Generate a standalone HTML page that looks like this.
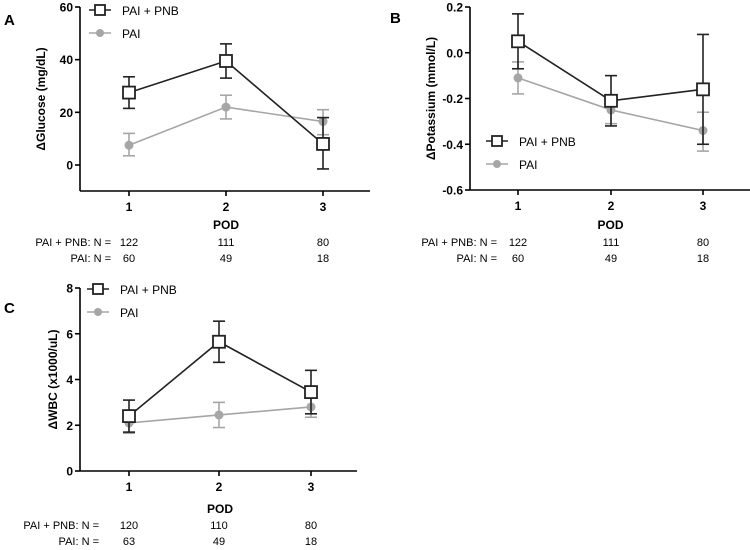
<!DOCTYPE html>
<html><head><meta charset="utf-8">
<style>
html,body{margin:0;padding:0;background:#fff;}
svg{display:block;font-family:"Liberation Sans",Arial,sans-serif;}
</style></head>
<body>
<svg id="fig" width="750" height="550" viewBox="0 0 750 550" xmlns="http://www.w3.org/2000/svg"></svg>
<script>
const categories = ["1","2","3"];
// Panel A glucose
const glucosePnb = [27.5, 39.5, 8];
const glucosePnbLo = [21.5, 33, -1.5];
const glucosePnbHi = [33.5, 46, 18];
const glucosePai = [7.5, 22, 16.5];
const glucosePaiLo = [3.5, 17.5, 11.5];
const glucosePaiHi = [12, 26.5, 21];
const glucoseTicks = [0, 20, 40, 60];
const glucoseNPnb = ["122","111","80"];
const glucoseNPai = ["60","49","18"];
// Panel B potassium
const potPnb = [0.05, -0.21, -0.16];
const potPnbLo = [-0.07, -0.32, -0.40];
const potPnbHi = [0.17, -0.10, 0.08];
const potPai = [-0.11, -0.25, -0.34];
const potPaiLo = [-0.18, -0.31, -0.43];
const potPaiHi = [-0.04, -0.19, -0.26];
const potTicks = [-0.6, -0.4, -0.2, 0.0, 0.2];
const potTickLabels = ["-0.6","-0.4","-0.2","0.0","0.2"];
const potNPnb = ["122","111","80"];
const potNPai = ["60","49","18"];
// Panel C WBC
const wbcPnb = [2.4, 5.65, 3.45];
const wbcPnbLo = [1.7, 4.75, 2.5];
const wbcPnbHi = [3.1, 6.55, 4.4];
const wbcPai = [2.1, 2.45, 2.8];
const wbcPaiLo = [1.65, 1.9, 2.35];
const wbcPaiHi = [2.5, 3.0, 3.3];
const wbcTicks = [0, 2, 4, 6, 8];
const wbcNPnb = ["120","110","80"];
const wbcNPai = ["63","49","18"];

const svg = document.getElementById('fig');
const NS = "http://www.w3.org/2000/svg";
function mk(tag, attrs, parent){
  const e = document.createElementNS(NS, tag);
  for (const k in attrs) e.setAttribute(k, attrs[k]);
  (parent||svg).appendChild(e);
  return e;
}
function txt(s, x, y, size, weight, anchor, parent, fill){
  const t = mk('text', {x:x, y:y, 'font-size':size, 'font-weight':weight, 'text-anchor':anchor, fill:fill||'#000'}, parent);
  t.textContent = s;
  return t;
}

function panel(o){
  const g = mk('g', {});
  
  
  const yS = v => o.y0 + (v - o.vmin) / (o.vmax - o.vmin) * (o.y1 - o.y0);
  const xS = i => o.xs[i];
  // letter
  const L = txt(o.letter, o.lx, o.ly, 15, 'bold', 'start', g);
  
  
  // axes
  const ax = mk('g', {}, g);
  
  
  mk('line', {x1:o.ax, y1:yS(o.vmax), x2:o.ax, y2:o.axisY, stroke:'#000','stroke-width':1.6}, ax);
  mk('line', {x1:o.ax, y1:o.axisY, x2:o.axEnd, y2:o.axisY, stroke:'#000','stroke-width':1.6}, ax);
  o.ticks.forEach((t, i) => {
    const y = yS(t);
    mk('line', {x1:o.ax-5, y1:y, x2:o.ax, y2:y, stroke:'#000','stroke-width':1.6}, ax);
    const tl = txt(o.tickLabels ? o.tickLabels[i] : String(t), o.ax-7, y+4.5, 12, 'bold', 'end', ax);
    
    
  });
  categories.forEach((c, i) => {
    mk('line', {x1:xS(i), y1:o.axisY, x2:xS(i), y2:o.axisY+5, stroke:'#000','stroke-width':1.6}, ax);
    const tl = txt(c, xS(i), o.axisY+20, 12, 'bold', 'middle', ax);
    
    
    const n1 = txt(o.nPnb[i], xS(i), o.nY1, 11, 'normal', 'middle', ax);
    
    
    const n2 = txt(o.nPai[i], xS(i), o.nY2, 11, 'normal', 'middle', ax);
    
    
  });
  const xt = txt('POD', (xS(0)+xS(2))/2, o.podY, 12, 'bold', 'middle', ax);
  
  
  const r1 = txt('PAI + PNB: N =', o.nLabelX, o.nY1, 11, 'normal', 'end', ax);
  
  
  const r2 = txt('PAI: N =', o.nLabelX, o.nY2, 11, 'normal', 'end', ax);
  
  
  const yc = (yS(o.vmax) + o.axisY) / 2;
  const yt = txt(o.ytitle, 0, 0, 12, 'bold', 'middle', ax);
  yt.setAttribute('transform', `translate(${o.ytx},${yc}) rotate(-90)`);
  
  

  function series(vals, lo, hi, color, sq, name){
    const sg = mk('g', {}, g);
    
    
    vals.forEach((v, i) => {
      const x = xS(i);
      mk('line', {x1:x, y1:yS(lo[i]), x2:x, y2:yS(hi[i]), stroke:color,'stroke-width':1.6}, sg);
      mk('line', {x1:x-6, y1:yS(lo[i]), x2:x+6, y2:yS(lo[i]), stroke:color,'stroke-width':1.6}, sg);
      mk('line', {x1:x-6, y1:yS(hi[i]), x2:x+6, y2:yS(hi[i]), stroke:color,'stroke-width':1.6}, sg);
    });
    const pts = vals.map((v, i) => xS(i) + ',' + yS(v)).join(' ');
    mk('polyline', {points:pts, fill:'none', stroke:color, 'stroke-width':1.6}, sg);
    vals.forEach((v, i) => {
      let m;
      if (sq) m = mk('rect', {x:xS(i)-6, y:yS(v)-6, width:12, height:12, fill:'#fff', stroke:color, 'stroke-width':1.8}, sg);
      else m = mk('circle', {cx:xS(i), cy:yS(v), r:4.5, fill:color}, sg);
      
      
    });
  }
  series(o.pai, o.paiLo, o.paiHi, '#a6a6a6', false, 'series-pai');
  series(o.pnb, o.pnbLo, o.pnbHi, '#222', true, 'series-pai-pnb');

  // legend
  const lg = mk('g', {}, g);
  
  
  const lx = o.legX, ly = o.legY;
  const e1 = mk('g', {}, lg);
  
  
  mk('line', {x1:lx-11, y1:ly, x2:lx+11, y2:ly, stroke:'#222','stroke-width':1.6}, e1);
  mk('rect', {x:lx-5, y:ly-5, width:10, height:10, fill:'#fff', stroke:'#222','stroke-width':1.8}, e1);
  txt('PAI + PNB', lx+22, ly+5, 12, 'normal', 'start', e1);
  const e2 = mk('g', {}, lg);
  
  
  mk('line', {x1:lx-11, y1:ly+23, x2:lx+11, y2:ly+23, stroke:'#a6a6a6','stroke-width':1.6}, e2);
  mk('circle', {cx:lx, cy:ly+23, r:4, fill:'#a6a6a6'}, e2);
  txt('PAI', lx+22, ly+28, 12, 'normal', 'start', e2);
}

panel({name:'panel-a-glucose', letter:'A', lx:4, ly:25, ax:80, axEnd:370, vmin:0, vmax:60, y0:165, y1:7, axisY:191,
  xs:[129,226,323], ticks:glucoseTicks, ytitle:'\u0394Glucose (mg/dL)', ytx:45,
  pnb:glucosePnb, pnbLo:glucosePnbLo, pnbHi:glucosePnbHi, pai:glucosePai, paiLo:glucosePaiLo, paiHi:glucosePaiHi,
  nPnb:glucoseNPnb, nPai:glucoseNPai, podY:229, nY1:246, nY2:262, nLabelX:111, legX:100, legY:10});

panel({name:'panel-b-potassium', letter:'B', lx:390, ly:23, ax:470, axEnd:750, vmin:-0.6, vmax:0.2, y0:190, y1:7, axisY:190,
  xs:[518,611,703], ticks:potTicks, tickLabels:potTickLabels, ytitle:'\u0394Potassium (mmol/L)', ytx:435,
  pnb:potPnb, pnbLo:potPnbLo, pnbHi:potPnbHi, pai:potPai, paiLo:potPaiLo, paiHi:potPaiHi,
  nPnb:potNPnb, nPai:potNPai, podY:229, nY1:246, nY2:262, nLabelX:497, legX:497, legY:141});

panel({name:'panel-c-wbc', letter:'C', lx:4, ly:313, ax:80, axEnd:357, vmin:0, vmax:8, y0:471, y1:288, axisY:471,
  xs:[129,219,311], ticks:wbcTicks, ytitle:'\u0394WBC (x1000/uL)', ytx:57,
  pnb:wbcPnb, pnbLo:wbcPnbLo, pnbHi:wbcPnbHi, pai:wbcPai, paiLo:wbcPaiLo, paiHi:wbcPaiHi,
  nPnb:wbcNPnb, nPai:wbcNPai, podY:513, nY1:529, nY2:545, nLabelX:99, legX:98, legY:289});
</script>
</body></html>
